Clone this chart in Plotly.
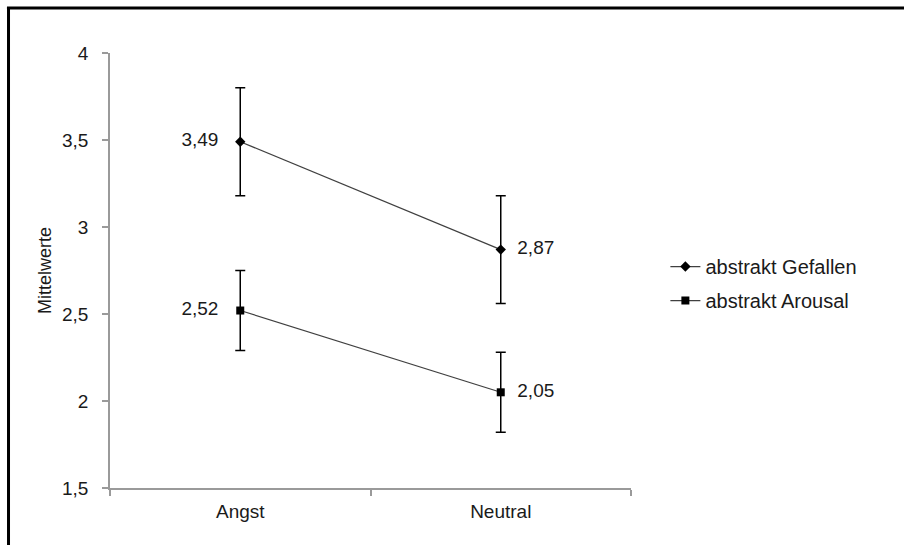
import plotly.graph_objects as go

categories = ["Angst", "Neutral"]
gefallen = [3.49, 2.87]
gefallen_err = [0.31, 0.31]
arousal = [2.52, 2.05]
arousal_err = [0.23, 0.23]
series_names = ["abstrakt Gefallen", "abstrakt Arousal"]
y_title = "Mittelwerte"
y_ticks = [1.5, 2, 2.5, 3, 3.5, 4]

FONT = "Liberation Sans, Arial, sans-serif"
TXT = "#1a1a1a"
AXC = "#9a9a9a"
NB = "\u00a0"

fig = go.Figure()
for name, vals, errs, sym, msize, grp in [
    (series_names[0], gefallen, gefallen_err, "diamond", 8, "g1"),
    (series_names[1], arousal, arousal_err, "square", 8, "g2"),
]:
    fig.add_trace(go.Scatter(
        x=categories, y=vals, name=name, legendgroup=grp,
        mode="lines+markers+text",
        line=dict(color="#404040", width=1.2),
        marker=dict(symbol=sym, size=msize, color="black"),
        error_y=dict(type="data", array=errs, visible=True,
                     color="black", thickness=1.5, width=5),
        texttemplate=["%{y:.2f}" + NB * 3, NB * 2 + "%{y:.2f}"],
        textposition=["middle left", "middle right"],
        textfont=dict(family=FONT, size=19, color=TXT),
        cliponaxis=False,
    ))

# frame: left and top edges
fig.add_shape(type="line", xref="paper", yref="paper",
              x0=-0.1948, x1=-0.1948, y0=1.1034, y1=-0.2,
              line=dict(color="black", width=3))
fig.add_shape(type="line", xref="paper", yref="paper",
              x0=-0.1978, x1=1.6, y0=1.1034, y1=1.1034,
              line=dict(color="black", width=3))

fig.update_layout(
    width=904, height=545,
    margin=dict(l=110, r=273, t=53, b=57),
    paper_bgcolor="white", plot_bgcolor="white",
    separators=",.",
    font=dict(family=FONT, size=19, color=TXT),
    showlegend=True,
    legend=dict(x=1.066, xanchor="left", y=0.47, yanchor="middle",
                font=dict(family=FONT, size=20, color=TXT),
                tracegroupgap=5, traceorder="grouped",
                bgcolor="rgba(0,0,0,0)"),
    xaxis=dict(type="category", range=[-0.5, 1.5],
               showline=True, linecolor=AXC, linewidth=1.5,
               ticks="outside", tickson="boundaries", ticklen=6,
               tickcolor=AXC, tickwidth=1.5,
               showgrid=False, zeroline=False,
               tickfont=dict(family=FONT, size=19, color=TXT),
               ticklabelstandoff=5),
    yaxis=dict(range=[1.5, 4], tickvals=y_ticks,
               showline=True, linecolor=AXC, linewidth=1.5,
               ticks="outside", ticklen=6, tickcolor=AXC, tickwidth=1.5,
               showgrid=False, zeroline=False,
               tickfont=dict(family=FONT, size=19, color=TXT),
               ticklabelstandoff=10,
               title=dict(text=y_title, standoff=6,
                          font=dict(family=FONT, size=18, color=TXT))),
)

fig.write_html("out.html", config={"displayModeBar": False},
               post_script="document.body.style.margin='0';")
